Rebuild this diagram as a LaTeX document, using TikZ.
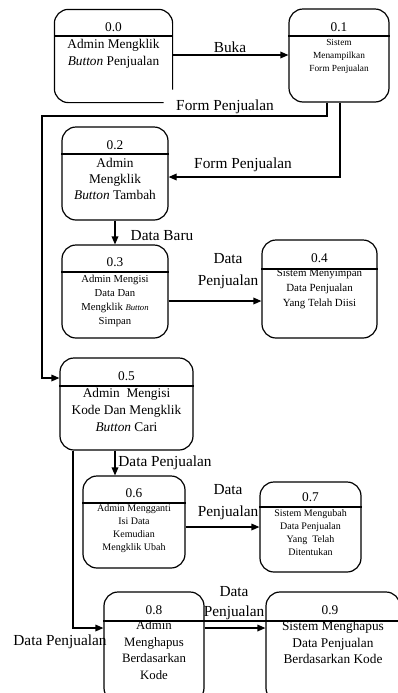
\documentclass[tikz,border=0pt]{standalone}
\usepackage{fontspec}
\setmainfont{Liberation Serif}
\usetikzlibrary{arrows.meta,fit,calc}
\begin{document}
\begin{tikzpicture}[x=0.75pt,y=-0.75pt,
  line width=0.9pt,
  proc/.style={draw, rounded corners=10.5pt, inner sep=0pt, line width=0.9pt},
  procopen/.style={rounded corners=10.5pt, inner sep=0pt},
  boxline/.style={line width=0.9pt, rounded corners=10.5pt},
  divline/.style={line width=0.9pt},
  flow/.style={-{Triangle[length=6pt,width=5pt]}, line width=0.9pt},
  wire/.style={line width=0.9pt},
  lbl/.style={font=\fontsize{11.5}{13}\selectfont, inner sep=0pt},
  num/.style={font=\fontsize{10}{12}\selectfont, inner sep=0pt},
  txt/.style={align=center, inner sep=0pt}
]
\useasboundingbox (0,0) rectangle (398,693);
\clip (0,0) rectangle (398,693);

% ---- boxes ----
\node[procopen, fit={(55,10) (172,102)}] (b0) {};
\draw[boxline] ($(b0.south east)+(-9,0)$) -| (b0.north west) -| ($(b0.south east)+(0,-13)$);
\node[proc, fit={(289,9) (389,102)}] (b1) {};
\node[proc, fit={(62,127) (168,220)}] (b2) {};
\node[proc, fit={(62,245) (168,338)}] (b3) {};
\node[proc, fit={(262,240) (377,338)}] (b4) {};
\node[proc, fit={(60,358) (193,450)}] (b5) {};
\node[proc, fit={(83,476) (185,568)}] (b6) {};
\node[proc, fit={(260,482) (361,572)}] (b7) {};
\node[proc, fit={(104,592) (204,702)}] (b8) {};
\node[proc, fit={(266,592) (400,702)}] (b9) {};

% ---- dividers ----
\draw[divline] (b0.west |- 0,36) -- (b0.east |- 0,36);
\draw[divline] (b1.west |- 0,36) -- (b1.east |- 0,36);
\draw[divline] (b2.west |- 0,154) -- (b2.east |- 0,154);
\draw[divline] (b3.west |- 0,272) -- (b3.east |- 0,272);
\draw[divline] (b4.west |- 0,269) -- (b4.east |- 0,269);
\draw[divline] (b5.west |- 0,386) -- (b5.east |- 0,386);
\draw[divline] (b6.west |- 0,503) -- (b6.east |- 0,503);
\draw[divline] (b7.west |- 0,507) -- (b7.east |- 0,507);
\draw[divline] (b8.west |- 0,621) -- (b9.east |- 0,621);

% ---- numbers ----
\node[num] (n0) at (b0.center |- 0,27) {0.0};
\node[num] (n1) at (b1.center |- 0,27) {0.1};
\node[num] (n2) at (b2.center |- 0,145) {0.2};
\node[num] (n3) at (b3.center |- 0,262) {0.3};
\node[num] (n4) at (b4.center |- 0,258) {0.4};
\node[num] (n5) at (b5.center |- 0,376) {0.5};
\node[num] (n6) at (b6.center |- 0,493) {0.6};
\node[num] (n7) at (b7.center |- 0,497) {0.7};
\node[num] (n8) at (b8.center |- 0,610) {0.8};
\node[num] (n9) at (330,610) {0.9};

% ---- box texts ----
\node[txt, font=\fontsize{10}{12.75}\selectfont] (t0) at (b0.center |- 0,53.5)
  {Admin Mengklik\\\textit{Button} Penjualan};
\node[txt, font=\fontsize{7}{9.75}\selectfont] (t1) at (b1.center |- 0,56)
  {Sistem\\Menampilkan\\Form Penjualan};
\node[txt, font=\fontsize{10}{12}\selectfont] (t2) at (b2.center |- 0,179)
  {Admin\\Mengklik\\\textit{Button} Tambah};
\node[txt, font=\fontsize{8}{10.5}\selectfont] (t3) at (b3.center |- 0,301)
  {Admin Mengisi\\Data Dan\\Mengklik {\fontsize{6.5}{8}\selectfont\textit{Button}}\\Simpan};
\node[txt, font=\fontsize{8.2}{11.25}\selectfont] (t4) at (b4.center |- 0,289)
  {Sistem Menyimpan\\Data Penjualan\\Yang Telah Diisi};
\node[txt, font=\fontsize{10}{12.75}\selectfont] (t5) at (b5.center |- 0,410)
  {Admin\ \ Mengisi\\Kode Dan Mengklik\\\textit{Button} Cari};
\node[txt, font=\fontsize{7.5}{9.75}\selectfont] (t6) at (b6.center |- 0,528.5)
  {Admin Mengganti\\Isi Data\\Kemudian\\Mengklik Ubah};
\node[txt, font=\fontsize{7.5}{9.75}\selectfont] (t7) at (b7.center |- 0,532.5)
  {Sistem Mengubah\\Data Penjualan\\Yang\ \ Telah\\Ditentukan};
\node[txt, font=\fontsize{9.6}{12.5}\selectfont] (t8) at (b8.center |- 0,650)
  {Admin\\Menghapus\\Berdasarkan\\Kode};
\node[txt, font=\fontsize{10}{12.4}\selectfont] (t9) at (333,642.5)
  {Sistem Menghapus\\Data Penjualan\\Berdasarkan Kode};

% ---- connectors ----
\draw[flow] (b0.east |- 0,55) -- (b1.west |- 0,55);
\node[lbl] (l01) at (230,47) {Buka};

\coordinate (c1a) at (327,116);
\coordinate (c1b) at (42,378);
\draw[flow] (c1a |- b1.south) -- (c1a) -| (c1b) -- (c1b -| b5.west);
\node[lbl] (l15) at (225,107) {Form Penjualan};

\coordinate (c2a) at (340,177);
\draw[flow] (c2a |- b1.south) -- (c2a) -- (c2a -| b2.east);
\node[lbl] (l12) at (243,165) {Form Penjualan};

\coordinate (c3a) at (115,0);
\draw[flow] (c3a |- b2.south) -- (c3a |- b3.north);
\node[lbl] (l23) at (162,236) {Data Baru};

\draw[flow] (b3.east |- 0,301) -- (b4.west |- 0,301);
\node[lbl, align=center, font=\fontsize{11.5}{16.5}\selectfont] (l34) at (228,271) {Data\\Penjualan};

\coordinate (c5a) at (73,628);
\draw[flow] (c5a |- b5.south) -- (c5a) -- (c5a -| b8.west);
\node[lbl] (l58) at (60,642) {Data Penjualan};

\coordinate (c6a) at (115,0);
\draw[flow] (c6a |- b5.south) -- (c6a |- b6.north);
\node[lbl] (l56) at (165,463) {Data Penjualan};

\draw[flow] (b6.east |- 0,527) -- (b7.west |- 0,527);
\node[lbl, align=center, font=\fontsize{11.5}{16.5}\selectfont] (l67) at (228,502) {Data\\Penjualan};

\draw[flow] (b8.east |- 0,628) -- (b9.west |- 0,628);
\node[lbl, align=center, font=\fontsize{11.5}{15}\selectfont] (l89) at (234,603) {Data\\Penjualan};
\end{tikzpicture}
\end{document}
